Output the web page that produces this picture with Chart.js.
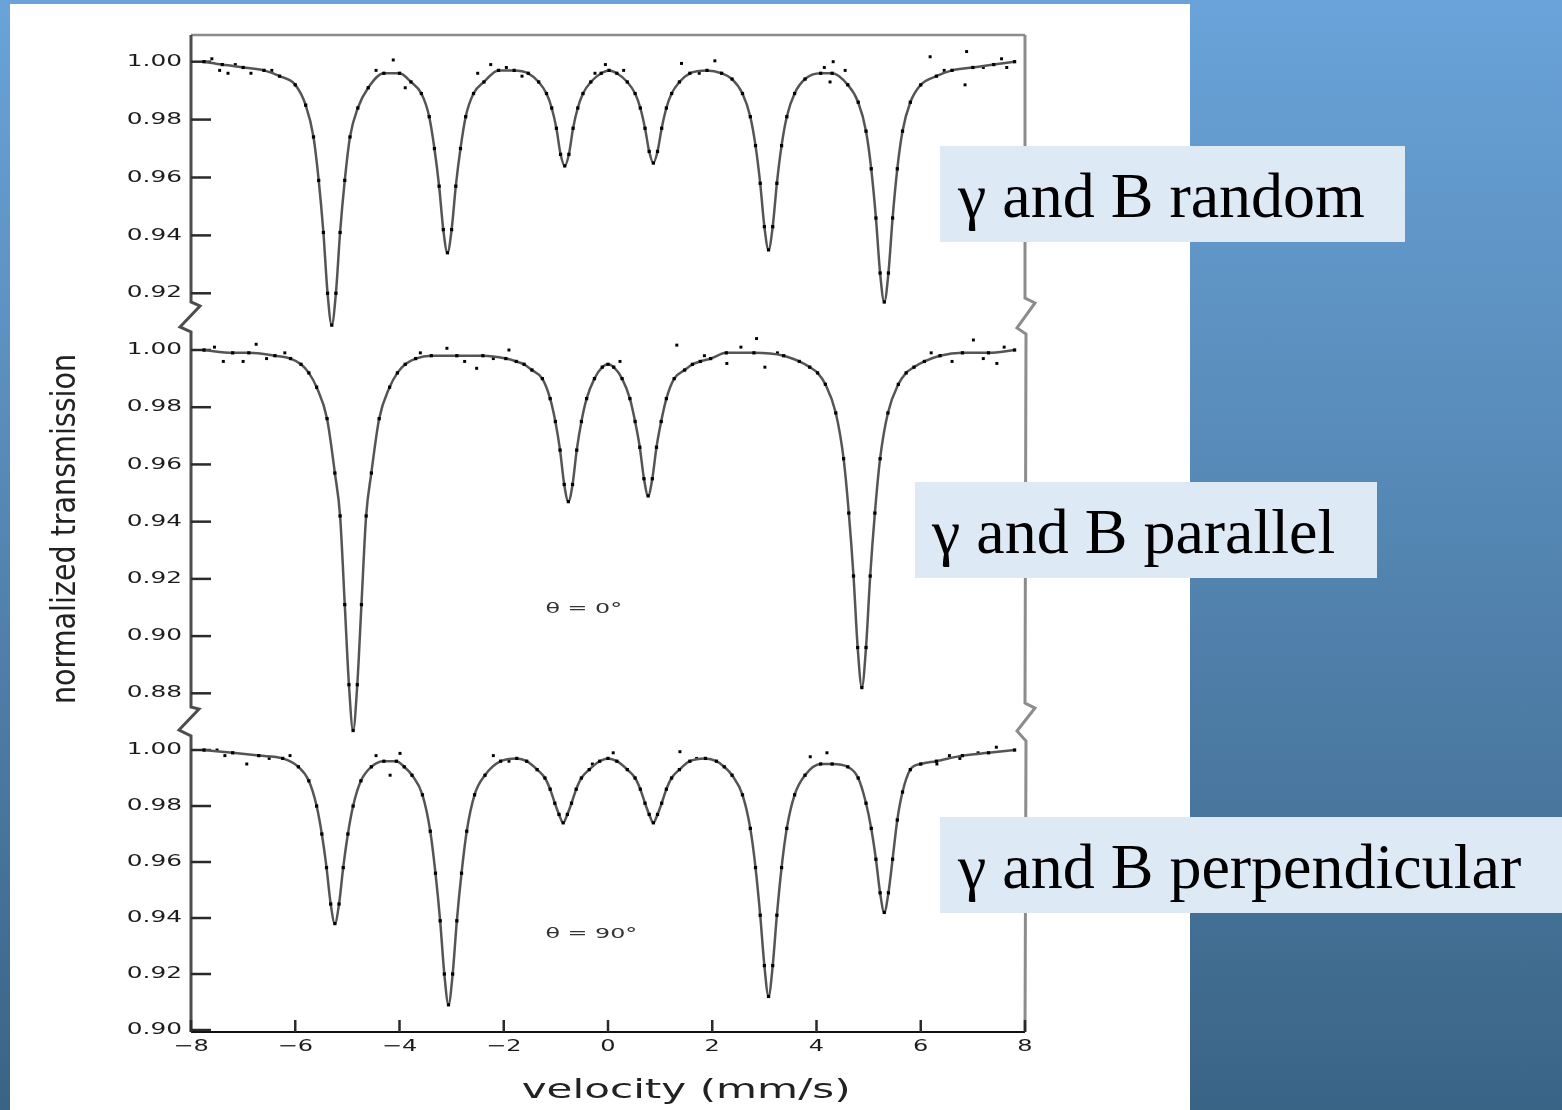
<!DOCTYPE html>
<html>
<head>
<meta charset="utf-8">
<script src="https://cdn.jsdelivr.net/npm/chart.js@4.4.1/dist/chart.umd.min.js"></script>
<style>
html, body { margin: 0; padding: 0; }
body {
  width: 1562px; height: 1110px; overflow: hidden; position: relative;
  background: linear-gradient(to bottom, #69a3d9 0%, #5688b5 45%, #3a6486 100%);
}
#sheet { position: absolute; left: 10px; top: 4px; width: 1180px; height: 1106px; background: #fff; }
#plot { position: absolute; left: 0; top: 0; }
.tag {
  position: absolute; height: 96px; box-sizing: border-box;
  background: #dde9f5; color: #000; white-space: nowrap;
  font-family: "Liberation Serif", "Times New Roman", serif;
  font-size: 64px; line-height: 96px; padding-left: 18px; padding-top: 2px;
}
</style>
</head>
<body>
<div id="sheet"></div>
<canvas id="plot" width="1562" height="1110"></canvas>
<div class="tag" style="left:940px; top:146px; width:465px;">γ and B random</div>
<div class="tag" style="left:915px; top:482px; width:462px; padding-left:17px;">γ and B parallel</div>
<div class="tag" style="left:940px; top:817px; width:622px;">γ and B perpendicular</div>

<script>
// tick values
var ticksX = [-8, -6, -4, -2, 0, 2, 4, 6, 8];
var ticksRandom = [1.00, 0.98, 0.96, 0.94, 0.92];
var ticksParallel = [1.00, 0.98, 0.96, 0.94, 0.92, 0.90, 0.88];
var ticksPerp = [1.00, 0.98, 0.96, 0.94, 0.92, 0.90];

// gamma and B random (fitted curve)
var velRandom = [-7.75,-7.4,-7.0,-6.6,-6.3,-6.0,-5.8,-5.65,-5.55,-5.46,-5.38,-5.30,-5.22,-5.14,-5.05,-4.95,-4.8,-4.6,-4.3,-4.0,
  -3.78,-3.58,-3.43,-3.33,-3.24,-3.16,-3.08,-3.00,-2.92,-2.83,-2.73,-2.58,-2.38,-2.1,-1.8,-1.53,-1.33,-1.18,-1.08,-0.99,
  -0.91,-0.83,-0.75,-0.67,-0.58,-0.48,-0.33,-0.13,0.02,0.17,0.37,0.52,0.62,0.71,0.79,0.87,0.95,1.03,1.12,1.22,
  1.37,1.57,1.9,2.18,2.38,2.58,2.73,2.83,2.92,3.00,3.08,3.16,3.24,3.33,3.43,3.58,3.78,4.08,4.30,4.6,
  4.8,4.95,5.05,5.14,5.22,5.30,5.38,5.46,5.55,5.65,5.8,6.0,6.3,6.6,7.0,7.4,7.8];
var fitRandom = [1.000,0.999,0.998,0.997,0.995,0.992,0.985,0.974,0.959,0.941,0.920,0.909,0.920,0.941,0.959,0.974,0.984,0.991,0.996,0.996,
  0.993,0.989,0.981,0.970,0.957,0.942,0.934,0.942,0.957,0.970,0.981,0.989,0.993,0.997,0.997,0.996,0.993,0.989,0.984,0.977,
  0.968,0.964,0.968,0.977,0.984,0.989,0.993,0.996,0.997,0.996,0.993,0.989,0.984,0.977,0.969,0.965,0.969,0.977,0.984,0.989,
  0.993,0.996,0.997,0.996,0.994,0.989,0.981,0.971,0.958,0.943,0.935,0.943,0.958,0.971,0.981,0.989,0.994,0.996,0.996,0.992,
  0.986,0.976,0.963,0.946,0.927,0.917,0.927,0.946,0.963,0.976,0.986,0.992,0.995,0.997,0.998,0.999,1.000];
var noiseRandomV = [-7.6,-7.45,-7.29,-7.15,-6.85,-6.45,-4.45,-4.12,-3.89,-2.5,-2.25,-1.95,-1.65,-0.25,-0.05,0.3,1.41,1.75,2.05,4.15,
  4.26,4.32,4.55,6.18,6.45,6.88,6.85,7.2,7.55,7.65];
var noiseRandomT = [1.001,0.997,0.996,0.999,0.996,0.997,0.997,1.0006,0.991,0.996,0.999,0.998,0.995,0.996,0.999,0.997,0.9994,0.996,1.0003,0.998,
  0.993,1.000,0.997,1.0017,0.997,1.0035,0.992,0.998,1.001,0.998];

// gamma and B parallel, theta = 0
var velParallel = [-7.75,-7.2,-6.89,-6.39,-6.09,-5.89,-5.74,-5.59,-5.39,-5.24,-5.14,-5.05,-4.97,-4.89,-4.81,-4.73,-4.64,-4.54,-4.39,-4.19,
  -4.04,-3.89,-3.69,-3.39,-2.9,-2.4,-1.96,-1.76,-1.61,-1.46,-1.26,-1.11,-1.01,-0.92,-0.84,-0.76,-0.68,-0.60,-0.51,-0.41,
  -0.26,-0.11,0.0,0.11,0.27,0.42,0.52,0.61,0.69,0.77,0.85,0.93,1.02,1.12,1.27,1.47,1.62,1.77,1.97,2.27,
  2.8,3.37,3.67,3.87,4.02,4.17,4.37,4.52,4.62,4.71,4.79,4.87,4.95,5.03,5.12,5.22,5.37,5.57,5.72,5.87,
  6.07,6.37,6.8,7.3,7.8];
var fitParallel = [1.000,0.999,0.999,0.998,0.997,0.995,0.992,0.987,0.976,0.957,0.942,0.911,0.883,0.867,0.883,0.911,0.942,0.957,0.976,0.987,
  0.992,0.995,0.997,0.998,0.998,0.998,0.997,0.996,0.995,0.993,0.990,0.983,0.975,0.965,0.953,0.947,0.953,0.965,0.975,0.983,
  0.990,0.994,0.995,0.994,0.990,0.983,0.975,0.966,0.955,0.949,0.955,0.966,0.975,0.983,0.990,0.993,0.995,0.996,0.997,0.999,
  0.999,0.998,0.996,0.994,0.992,0.988,0.978,0.962,0.943,0.921,0.896,0.882,0.896,0.921,0.943,0.962,0.978,0.988,0.992,0.994,
  0.996,0.998,0.999,0.999,1.000];
var noiseParallelV = [-7.55,-7.38,-7.0,-6.75,-6.55,-6.2,-3.6,-3.09,-2.75,-2.52,-2.2,-1.9,0.23,1.32,1.85,2.28,2.55,2.85,3.01,3.25,
  6.2,6.6,7.01,7.2,7.46,7.6];
var noiseParallelT = [1.001,0.996,0.996,1.002,0.997,0.999,0.999,1.0006,0.996,0.9936,0.997,1.000,0.996,1.0017,0.998,0.9953,1.001,1.004,0.994,0.999,
  0.999,0.996,1.0035,0.997,0.9953,1.001];

// gamma and B perpendicular, theta = 90
var velPerp = [-7.75,-7.2,-6.7,-6.24,-5.94,-5.74,-5.59,-5.49,-5.40,-5.32,-5.24,-5.16,-5.08,-4.99,-4.89,-4.74,-4.54,-4.3,-4.06,-3.91,
  -3.76,-3.56,-3.41,-3.31,-3.22,-3.14,-3.06,-2.98,-2.90,-2.81,-2.71,-2.56,-2.36,-2.06,-1.75,-1.56,-1.36,-1.21,-1.11,-1.02,
  -0.94,-0.86,-0.78,-0.70,-0.61,-0.51,-0.36,-0.16,0.0,0.17,0.37,0.52,0.62,0.71,0.79,0.87,0.95,1.03,1.12,1.22,
  1.37,1.57,1.87,2.08,2.23,2.38,2.58,2.73,2.83,2.92,3.00,3.08,3.16,3.24,3.33,3.43,3.58,3.78,4.08,4.30,
  4.60,4.80,4.95,5.05,5.14,5.22,5.30,5.38,5.46,5.55,5.65,5.80,6.00,6.30,6.8,7.3,7.8];
var fitPerp = [1.000,0.999,0.998,0.997,0.994,0.989,0.980,0.970,0.958,0.945,0.938,0.945,0.958,0.970,0.980,0.989,0.994,0.996,0.996,0.994,
  0.991,0.984,0.971,0.956,0.939,0.920,0.909,0.920,0.939,0.956,0.971,0.984,0.991,0.996,0.997,0.996,0.993,0.990,0.986,0.981,
  0.977,0.974,0.977,0.981,0.986,0.990,0.993,0.996,0.997,0.996,0.993,0.990,0.986,0.981,0.977,0.974,0.977,0.981,0.986,0.990,
  0.993,0.996,0.997,0.996,0.994,0.991,0.984,0.972,0.958,0.941,0.923,0.912,0.923,0.941,0.958,0.972,0.984,0.991,0.995,0.995,
  0.994,0.990,0.981,0.972,0.961,0.949,0.942,0.949,0.961,0.975,0.985,0.993,0.995,0.996,0.998,0.999,1.000];
var noisePerpV = [-7.5,-7.35,-6.93,-6.5,-6.1,-4.45,-4.18,-3.99,-2.2,-1.9,-0.3,0.1,1.38,1.7,3.88,4.2,6.31,6.55,6.75,7.1,7.45];
var noisePerpT = [1.000,0.998,0.995,0.997,0.998,0.998,0.991,0.9988,0.998,0.996,0.995,0.999,0.9994,0.997,0.9976,0.999,0.995,0.998,0.997,0.999,1.001];

var notes = ['θ = 0°', 'θ = 90°'];

function pts(xs, ys) {
  var out = [];
  for (var i = 0; i < xs.length; i++) out.push({x: xs[i], y: ys[i]});
  return out;
}

function fitSet(label, xs, ys, axis) {
  return {
    label: label, data: pts(xs, ys), yAxisID: axis,
    borderColor: '#555', borderWidth: 2.5, cubicInterpolationMode: 'monotone',
    pointStyle: 'rect', pointRadius: 2.3, pointBackgroundColor: '#000', pointBorderWidth: 0,
    pointHoverRadius: 0, clip: false
  };
}

function countSet(label, xs, ys, axis) {
  return {
    label: label, data: pts(xs, ys), yAxisID: axis, showLine: false,
    pointStyle: 'rect', pointRadius: 2.1, pointBackgroundColor: '#000', pointBorderWidth: 0,
    pointHoverRadius: 0, clip: false
  };
}

// draws text squeezed / stretched along its own direction, like the scanned figure
function wideText(ctx, txt, x, y, sx, align, angle) {
  ctx.save();
  ctx.translate(x, y);
  if (angle) ctx.rotate(angle);
  ctx.scale(sx, 1);
  ctx.textAlign = align;
  ctx.fillText(txt, 0, 0);
  ctx.restore();
}

var frame = {
  id: 'frame',
  beforeDatasetsDraw: function (chart) {
    var ctx = chart.ctx;
    var ca = chart.chartArea;
    var xs = chart.scales.x;
    var yA = chart.scales.yRandom, yB = chart.scales.yParallel, yC = chart.scales.yPerp;
    var L = xs.getPixelForValue(-8), R = xs.getPixelForValue(8);
    var aBot = yA.getPixelForValue(0.917);
    var bTop = yB.getPixelForValue(1.0063), bBot = yB.getPixelForValue(0.8752);
    var cTop = yC.getPixelForValue(1.0043);
    ctx.save();
    ctx.lineJoin = 'miter';

    // top border
    ctx.strokeStyle = '#8c8c8c';
    ctx.lineWidth = 2.5;
    ctx.beginPath();
    ctx.moveTo(L, ca.top); ctx.lineTo(R, ca.top);
    ctx.stroke();

    // right border with breaks
    ctx.lineWidth = 3;
    ctx.beginPath();
    ctx.moveTo(R, ca.top); ctx.lineTo(R, aBot - 4);
    ctx.lineTo(R + 10, aBot + 1); ctx.lineTo(R - 8, bTop - 4); ctx.lineTo(R + 1, bTop + 2);
    ctx.lineTo(R, bBot - 4);
    ctx.lineTo(R + 10, bBot + 1); ctx.lineTo(R - 8, cTop - 7); ctx.lineTo(R + 1, cTop + 3);
    ctx.lineTo(R, ca.bottom);
    ctx.stroke();

    // left axis with breaks
    ctx.strokeStyle = '#4d4d4d';
    ctx.beginPath();
    ctx.moveTo(L, ca.top); ctx.lineTo(L, aBot);
    ctx.lineTo(L + 9, aBot + 4); ctx.lineTo(L - 11, bTop - 5); ctx.lineTo(L, bTop);
    ctx.lineTo(L, bBot);
    ctx.lineTo(L + 8, bBot + 2); ctx.lineTo(L - 12, cTop - 8); ctx.lineTo(L, cTop - 2);
    ctx.lineTo(L, ca.bottom);
    ctx.stroke();

    // x axis
    ctx.strokeStyle = '#111';
    ctx.lineWidth = 2;
    ctx.beginPath();
    ctx.moveTo(L, ca.bottom); ctx.lineTo(R, ca.bottom);
    ctx.stroke();

    // y ticks and labels
    ctx.font = '16px "DejaVu Sans"';
    ctx.fillStyle = '#1c1c1c';
    ctx.textBaseline = 'middle';
    ctx.strokeStyle = '#2a2a2a';
    ctx.lineWidth = 2.5;
    [[yA, ticksRandom], [yB, ticksParallel], [yC, ticksPerp]].forEach(function (p) {
      p[1].forEach(function (v) {
        var py = p[0].getPixelForValue(v);
        ctx.beginPath(); ctx.moveTo(L, py); ctx.lineTo(L + 20, py); ctx.stroke();
        wideText(ctx, v.toFixed(2), L - 9, py, 1.55, 'right');
      });
    });

    // x ticks and labels
    ticksX.forEach(function (v) {
      var px = xs.getPixelForValue(v);
      ctx.beginPath(); ctx.moveTo(px, ca.bottom); ctx.lineTo(px, ca.bottom - 12); ctx.stroke();
      var s = v < 0 ? '\u2212' + (-v) : String(v);
      wideText(ctx, s, px, ca.bottom + 15, 1.5, 'center');
    });

    // axis titles
    ctx.fillStyle = '#222';
    ctx.textBaseline = 'alphabetic';
    ctx.font = '27px "DejaVu Sans"';
    wideText(ctx, 'velocity (mm/s)', xs.getPixelForValue(1.5), ca.bottom + 66, 1.56, 'center');
    ctx.font = '34px "DejaVu Sans"';
    wideText(ctx, 'normalized transmission', 75, 529, 0.84, 'center', -Math.PI / 2);

    // angle notes inside the panels
    ctx.font = '14px "DejaVu Sans"';
    ctx.fillStyle = '#333';
    ctx.textBaseline = 'middle';
    wideText(ctx, notes[0], xs.getPixelForValue(-1.2), yB.getPixelForValue(0.9095), 1.7, 'left');
    wideText(ctx, notes[1], xs.getPixelForValue(-1.2), yC.getPixelForValue(0.934), 1.7, 'left');
    ctx.restore();
  }
};

var plot = document.getElementById('plot');
var spectrumChart = new Chart(plot, {
  type: 'line',
  data: {
    datasets: [
      fitSet('random fit', velRandom, fitRandom, 'yRandom'),
      countSet('random counts', noiseRandomV, noiseRandomT, 'yRandom'),
      fitSet('parallel fit', velParallel, fitParallel, 'yParallel'),
      countSet('parallel counts', noiseParallelV, noiseParallelT, 'yParallel'),
      fitSet('perpendicular fit', velPerp, fitPerp, 'yPerp'),
      countSet('perpendicular counts', noisePerpV, noisePerpT, 'yPerp')
    ]
  },
  options: {
    responsive: false,
    animation: false,
    events: [],
    layout: {
      autoPadding: false,
      padding: { left: 191, right: 537, top: 35, bottom: 78 }
    },
    plugins: {
      legend: { display: false },
      tooltip: { enabled: false }
    },
    scales: {
      x: { type: 'linear', min: -8, max: 8, display: false },
      // each panel gets its own stretch of the same plot height
      yRandom: { type: 'linear', min: 0.66483, max: 1.00922, display: false },
      yParallel: { type: 'linear', min: 0.76162, max: 1.11010, display: false },
      yPerp: { type: 'linear', min: 0.89929, max: 1.25536, display: false }
    }
  },
  plugins: [frame]
});
</script>
</body>
</html>
